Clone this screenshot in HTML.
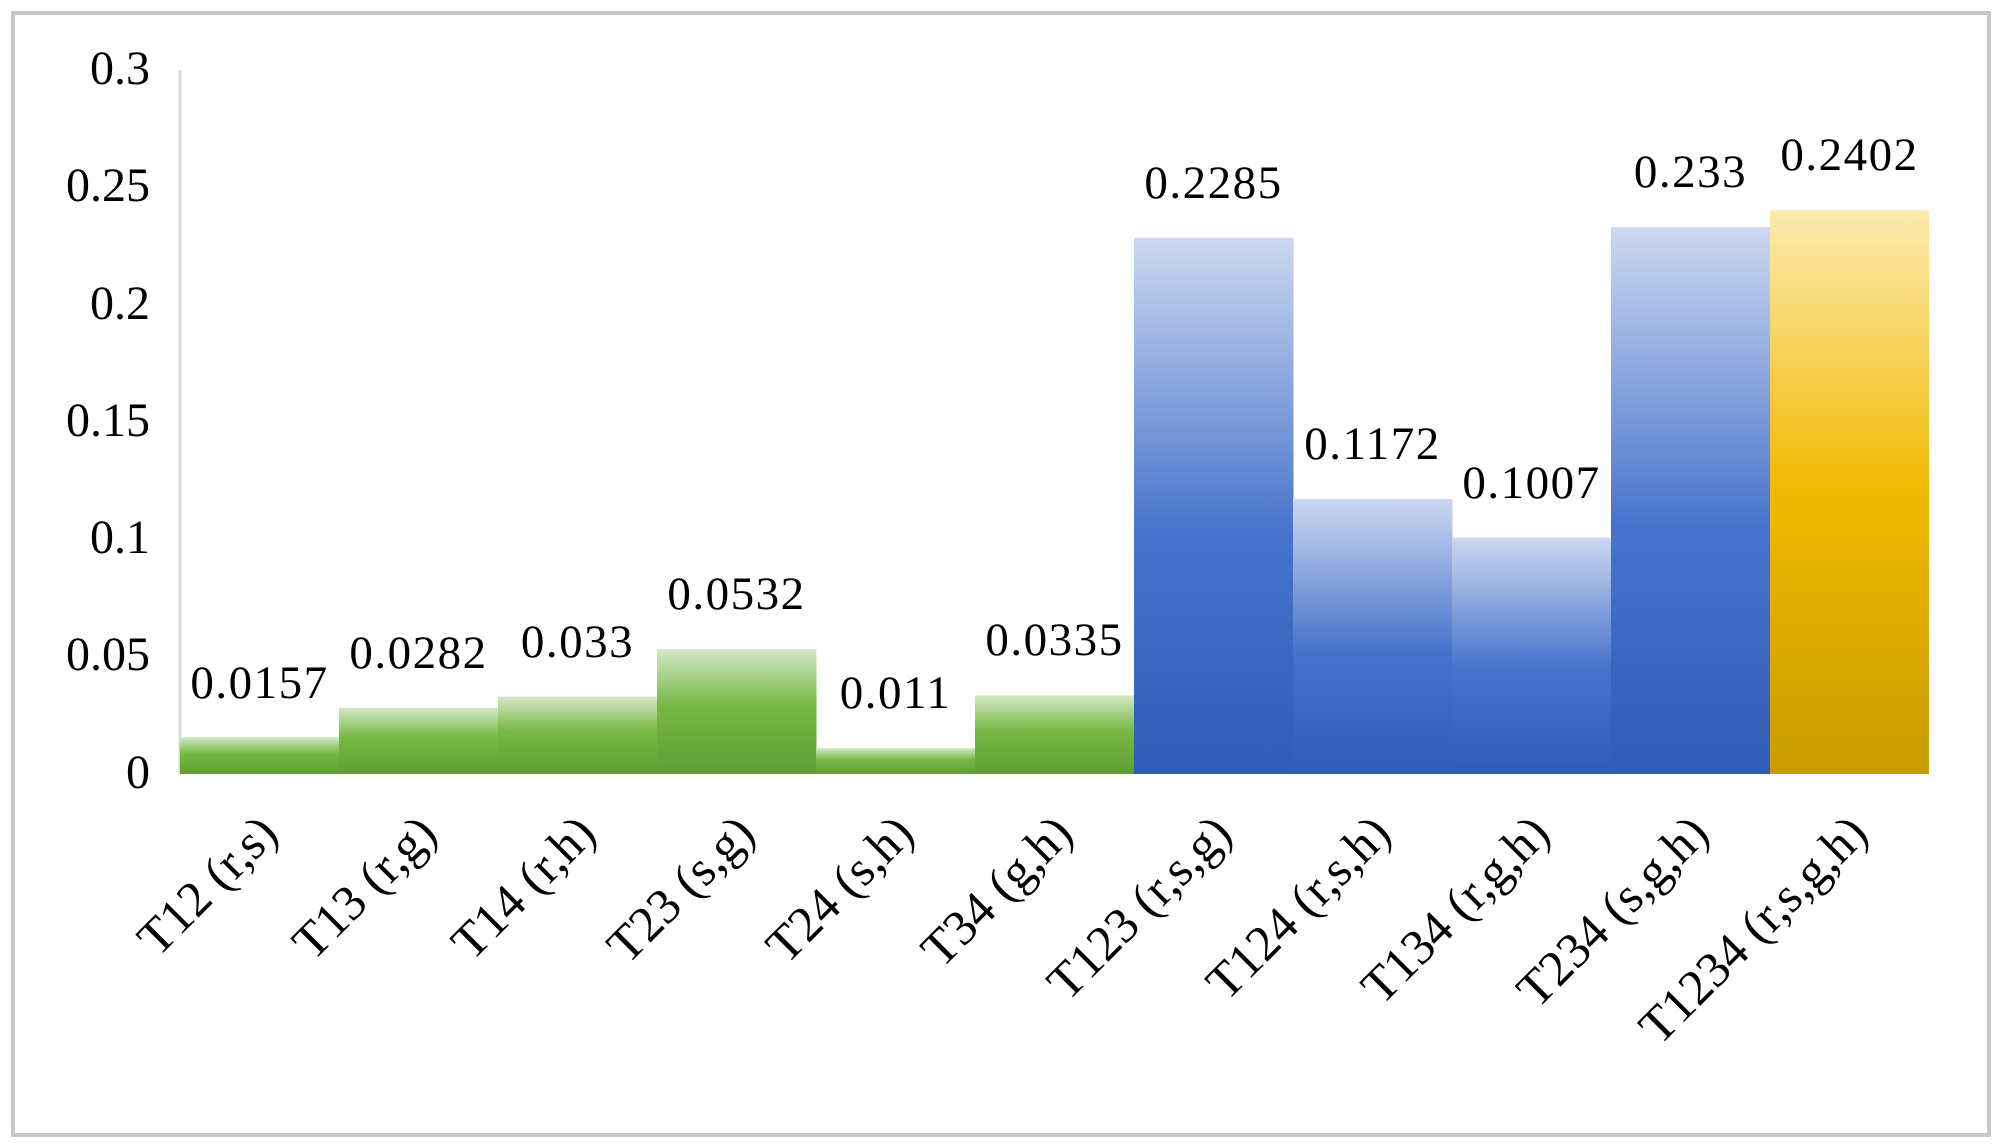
<!DOCTYPE html>
<html><head><meta charset="utf-8"><style>html,body{margin:0;padding:0;background:#fff}svg{display:block}</style></head>
<body>
<svg width="2000" height="1144" viewBox="0 0 2000 1144" xmlns="http://www.w3.org/2000/svg" font-family="Liberation Serif, serif">
<defs>
<linearGradient id="g" x1="0" y1="0" x2="0" y2="1"><stop offset="0" stop-color="#d3e8c6"/><stop offset="0.45" stop-color="#77b843"/><stop offset="1" stop-color="#5f9e35"/></linearGradient>
<linearGradient id="b" x1="0" y1="0" x2="0" y2="1"><stop offset="0" stop-color="#cdd8f0"/><stop offset="0.55" stop-color="#4773cc"/><stop offset="1" stop-color="#2f5db3"/></linearGradient>
<linearGradient id="y" x1="0" y1="0" x2="0" y2="1"><stop offset="0" stop-color="#fdebb0"/><stop offset="0.5" stop-color="#f0b900"/><stop offset="1" stop-color="#c99b00"/></linearGradient>
</defs>
<rect x="13" y="13" width="1976" height="1122" fill="#fff" stroke="#c8c8c8" stroke-width="4"/>
<line x1="180" y1="70" x2="180" y2="774" stroke="#d9d9d9" stroke-width="3"/>
<g font-size="48" text-anchor="end" fill="#000">
<text x="150" y="84">0.3</text><text x="150" y="201">0.25</text><text x="150" y="319">0.2</text><text x="150" y="436">0.15</text><text x="150" y="553">0.1</text><text x="150" y="670">0.05</text><text x="150" y="788">0</text>
</g>
<rect x="180" y="737.2" width="159.5" height="36.8" fill="url(#g)"/>
<rect x="339" y="707.8" width="159.5" height="66.2" fill="url(#g)"/>
<rect x="498" y="696.6" width="159.5" height="77.4" fill="url(#g)"/>
<rect x="657" y="649.2" width="159.5" height="124.8" fill="url(#g)"/>
<rect x="816" y="748.2" width="159.5" height="25.8" fill="url(#g)"/>
<rect x="975" y="695.4" width="159.5" height="78.6" fill="url(#g)"/>
<rect x="1134" y="237.8" width="159.5" height="536.2" fill="url(#b)"/>
<rect x="1293" y="499" width="159.5" height="275" fill="url(#b)"/>
<rect x="1452" y="537.7" width="159.5" height="236.3" fill="url(#b)"/>
<rect x="1611" y="227.2" width="159.5" height="546.8" fill="url(#b)"/>
<rect x="1770" y="210.3" width="159" height="563.7" fill="url(#y)"/>
<g font-size="47" text-anchor="middle" fill="#000" letter-spacing="1.5">
<text x="259.5" y="698">0.0157</text>
<text x="418.5" y="668">0.0282</text>
<text x="577.5" y="657">0.033</text>
<text x="736.5" y="609">0.0532</text>
<text x="895.5" y="708">0.011</text>
<text x="1054.5" y="655">0.0335</text>
<text x="1213.5" y="198">0.2285</text>
<text x="1372.5" y="459">0.1172</text>
<text x="1531.5" y="498">0.1007</text>
<text x="1690.5" y="187">0.233</text>
<text x="1849.5" y="170">0.2402</text>
</g>
<g font-size="50" text-anchor="end" fill="#000">
<text transform="translate(280,836) rotate(-45)">T12 (r,s)</text>
<text transform="translate(439,836) rotate(-45)">T13 (r,g)</text>
<text transform="translate(598,836) rotate(-45)">T14 (r,h)</text>
<text transform="translate(757,836) rotate(-45)">T23 (s,g)</text>
<text transform="translate(916,836) rotate(-45)">T24 (s,h)</text>
<text transform="translate(1075,836) rotate(-45)">T34 (g,h)</text>
<text transform="translate(1234,836) rotate(-45)">T123 (r,s,g)</text>
<text transform="translate(1393,836) rotate(-45)">T124 (r,s,h)</text>
<text transform="translate(1552,836) rotate(-45)">T134 (r,g,h)</text>
<text transform="translate(1711,836) rotate(-45)">T234 (s,g,h)</text>
<text transform="translate(1870,836) rotate(-45)">T1234 (r,s,g,h)</text>
</g>
</svg>
</body></html>
